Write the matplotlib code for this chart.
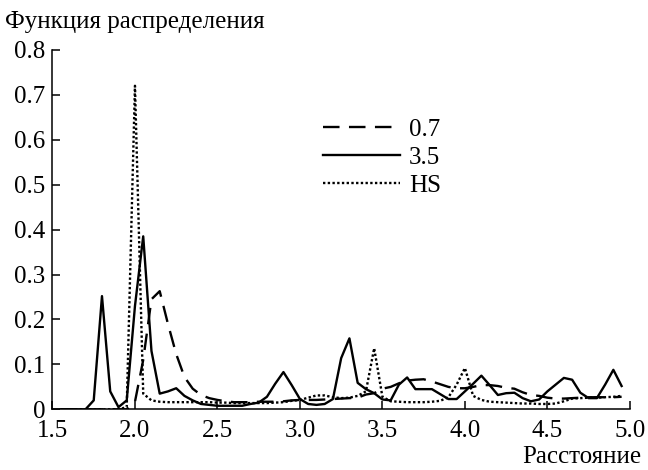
import numpy as np
import matplotlib
matplotlib.use("Agg")
import matplotlib.pyplot as plt

plt.rcParams['font.family'] = ['Liberation Serif', 'DejaVu Serif']

# distance grid
r = [1.55, 1.60, 1.65, 1.70, 1.75, 1.80, 1.85, 1.90, 1.95, 2.00,
     2.05, 2.10, 2.15, 2.20, 2.25, 2.30, 2.35, 2.40, 2.45, 2.50,
     2.55, 2.60, 2.65, 2.70, 2.75, 2.80, 2.85, 2.90, 2.95, 3.00,
     3.05, 3.10, 3.15, 3.20, 3.25, 3.30, 3.35, 3.40, 3.45, 3.50,
     3.55, 3.60, 3.65, 3.70, 3.75, 3.80, 3.85, 3.90, 3.95, 4.00,
     4.05, 4.10, 4.15, 4.20, 4.25, 4.30, 4.35, 4.40, 4.45, 4.50,
     4.55, 4.60, 4.65, 4.70, 4.75, 4.80, 4.85, 4.90, 4.95]

g_07 = [0, 0, 0, 0, 0, 0, 0, 0, 0, 0.017,
        0.11, 0.245, 0.263, 0.19, 0.123, 0.072, 0.046, 0.032, 0.025, 0.021,
        0.018, 0.016, 0.016, 0.016, 0.017, 0.017, 0.017, 0.018, 0.02, 0.021,
        0.021, 0.021, 0.022, 0.023, 0.024, 0.025, 0.026, 0.033, 0.036, 0.046,
        0.05, 0.058, 0.064, 0.066, 0.067, 0.062, 0.056, 0.05, 0.047, 0.047,
        0.05, 0.054, 0.054, 0.052, 0.048, 0.046, 0.038, 0.032, 0.03, 0.026,
        0.024, 0.024, 0.025, 0.026, 0.027, 0.027, 0.027, 0.027, 0.028]

g_35 = [0, 0, 0, 0, 0.02, 0.252, 0.04, 0.005, 0.02, 0.23,
        0.385, 0.13, 0.035, 0.04, 0.047, 0.03, 0.02, 0.012, 0.01, 0.008,
        0.008, 0.008, 0.008, 0.012, 0.015, 0.028, 0.057, 0.083, 0.054, 0.023,
        0.012, 0.01, 0.012, 0.023, 0.114, 0.158, 0.059, 0.045, 0.036, 0.022,
        0.02, 0.055, 0.071, 0.045, 0.045, 0.045, 0.034, 0.023, 0.023, 0.04,
        0.057, 0.075, 0.054, 0.032, 0.036, 0.037, 0.025, 0.018, 0.022, 0.04,
        0.055, 0.07, 0.066, 0.037, 0.025, 0.025, 0.055, 0.088, 0.052]

g_hs = [0, 0, 0, 0, 0, 0, 0, 0, 0.005, 0.72,
        0.035, 0.02, 0.017, 0.016, 0.016, 0.016, 0.016, 0.016, 0.016, 0.015,
        0.015, 0.014, 0.014, 0.014, 0.014, 0.014, 0.015, 0.016, 0.019, 0.021,
        0.026, 0.031, 0.031, 0.027, 0.025, 0.026, 0.03, 0.04, 0.136, 0.028,
        0.018, 0.017, 0.016, 0.016, 0.016, 0.017, 0.019, 0.027, 0.055, 0.092,
        0.03, 0.021, 0.017, 0.016, 0.015, 0.014, 0.013, 0.013, 0.012, 0.012,
        0.013, 0.018, 0.024, 0.025, 0.026, 0.026, 0.027, 0.028, 0.03]

x_ticks = [1.5, 2.0, 2.5, 3.0, 3.5, 4.0, 4.5, 5.0]
y_ticks = [0, 0.1, 0.2, 0.3, 0.4, 0.5, 0.6, 0.7, 0.8]


def main():
    fig = plt.figure(figsize=(6.48, 4.70), dpi=100)
    ax = fig.add_axes([0.081, 0.129, 0.891, 0.765])

    ax.plot(r, g_07, color='black', lw=1.7, linestyle=(0, (7, 4)), label='0.7')
    ax.plot(r, g_35, color='black', lw=1.7, linestyle='-', label='3.5')
    ax.plot(r, g_hs, color='black', lw=1.7, linestyle=(0, (1, 1)), label='HS')

    ax.set_xlim(1.5, 5.0)
    ax.set_ylim(0, 0.8)
    ax.set_xticks(x_ticks)
    ax.set_xticklabels(['%.1f' % v for v in x_ticks])
    ax.set_yticks(y_ticks)
    ax.set_yticklabels(['0'] + ['%.1f' % v for v in y_ticks[1:]])
    ax.tick_params(direction='in', length=6, width=1.1, labelsize=18)
    ax.tick_params(axis='x', pad=8)
    ax.tick_params(axis='y', pad=5)
    ax.spines['top'].set_visible(False)
    ax.spines['right'].set_visible(False)
    for s in ['left', 'bottom']:
        ax.spines[s].set_linewidth(1.1)

    ax.legend(loc='upper left', bbox_to_anchor=(0.468, 0.81), frameon=False,
              fontsize=18, handlelength=3.1, borderpad=0, borderaxespad=0,
              labelspacing=0.22, handletextpad=0.35)

    fig.text(5 / 648, 1 - 22 / 470, 'Функция распределения', fontsize=18,
             ha='left', va='center')
    fig.text(641 / 648, 1 - 457 / 470, 'Расстояние', fontsize=18,
             ha='right', va='center')

    fig.savefig('out.png', dpi=100)


if __name__ == "__main__":
    main()
